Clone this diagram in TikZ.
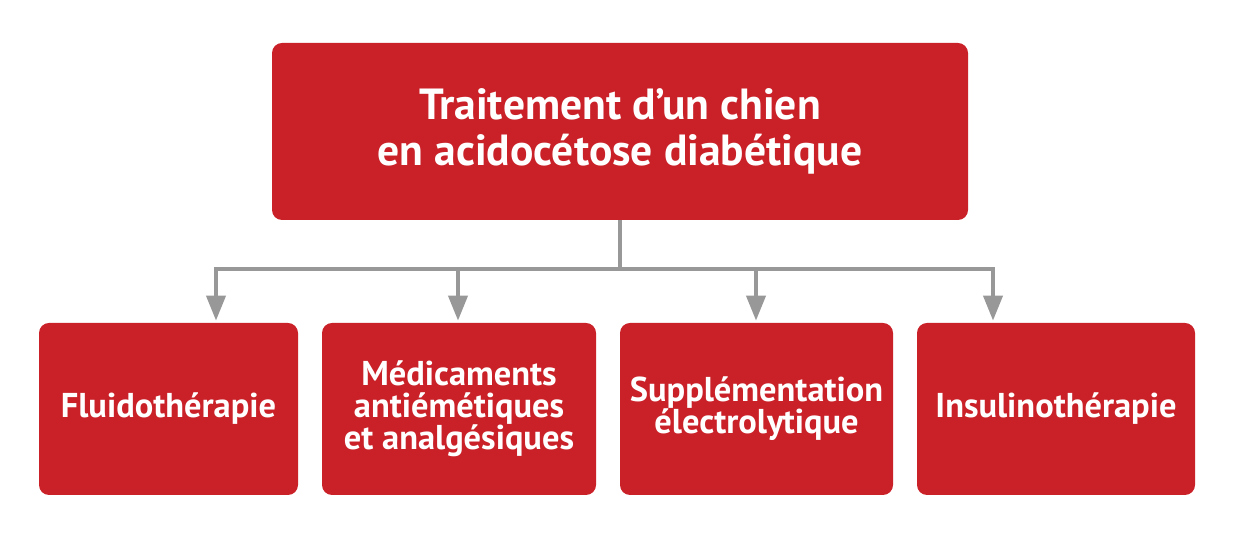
\documentclass[tikz,border=0pt]{standalone}
\usepackage{fontspec}
\setmainfont{PT Sans}
\usetikzlibrary{arrows.meta,positioning}

\definecolor{boxred}{HTML}{CA2129}
\definecolor{linkgray}{HTML}{989898}

\tikzset{
    titlebox/.style={fill=boxred,rounded corners=0.2cm,text=white,font=\bfseries\fontsize{24.8}{26.4}\selectfont,align=center,minimum height=3.54cm},
    stepbox/.style={fill=boxred,rounded corners=0.2cm,text=white,font=\bfseries\fontsize{19.6}{18.2}\selectfont,align=center,minimum height=3.44cm},
    link/.style={draw=linkgray,line width=0.08cm},
    linkarrow/.style={link,-{Triangle[width=0.38cm,length=0.5cm]},shorten >=0.04cm}
}

\begin{document}
\begin{tikzpicture}
    \useasboundingbox (0,0) rectangle (24.8,10.72);
    \node[titlebox,minimum width=13.92cm] (traitement) at (12.4,8.09) {Traitement d’un chien\\en acidocétose diabétique};
    \node[stepbox,minimum width=5.18cm] (fluido) at (3.37,2.54) {Fluidothérapie};
    \node[stepbox,minimum width=5.48cm] (medic) at (9.18,2.54) {Médicaments\\antiémétiques\\et analgésiques};
    \node[stepbox,minimum width=5.46cm] (suppl) at (15.13,2.54) {Supplémentation\\électrolytique};
    \node[stepbox,minimum width=5.56cm] (insulin) at (21.12,2.54) {Insulinothérapie};
    % the bar
    \coordinate (bar) at (12.4,5.34);
    \coordinate (j1) at (4.32,5.34);
    \coordinate (j2) at (9.16,5.34);
    \coordinate (j3) at (15.12,5.34);
    \coordinate (j4) at (19.86,5.34);
    \draw[link] (traitement.south) -- (bar);
    \draw[link,line cap=rect] (j1) -- (j4);
    \draw[linkarrow] (j1) -- (j1 |- fluido.north);
    \draw[linkarrow] (j2) -- (j2 |- medic.north);
    \draw[linkarrow] (j3) -- (j3 |- suppl.north);
    \draw[linkarrow] (j4) -- (j4 |- insulin.north);
\end{tikzpicture}
\end{document}
